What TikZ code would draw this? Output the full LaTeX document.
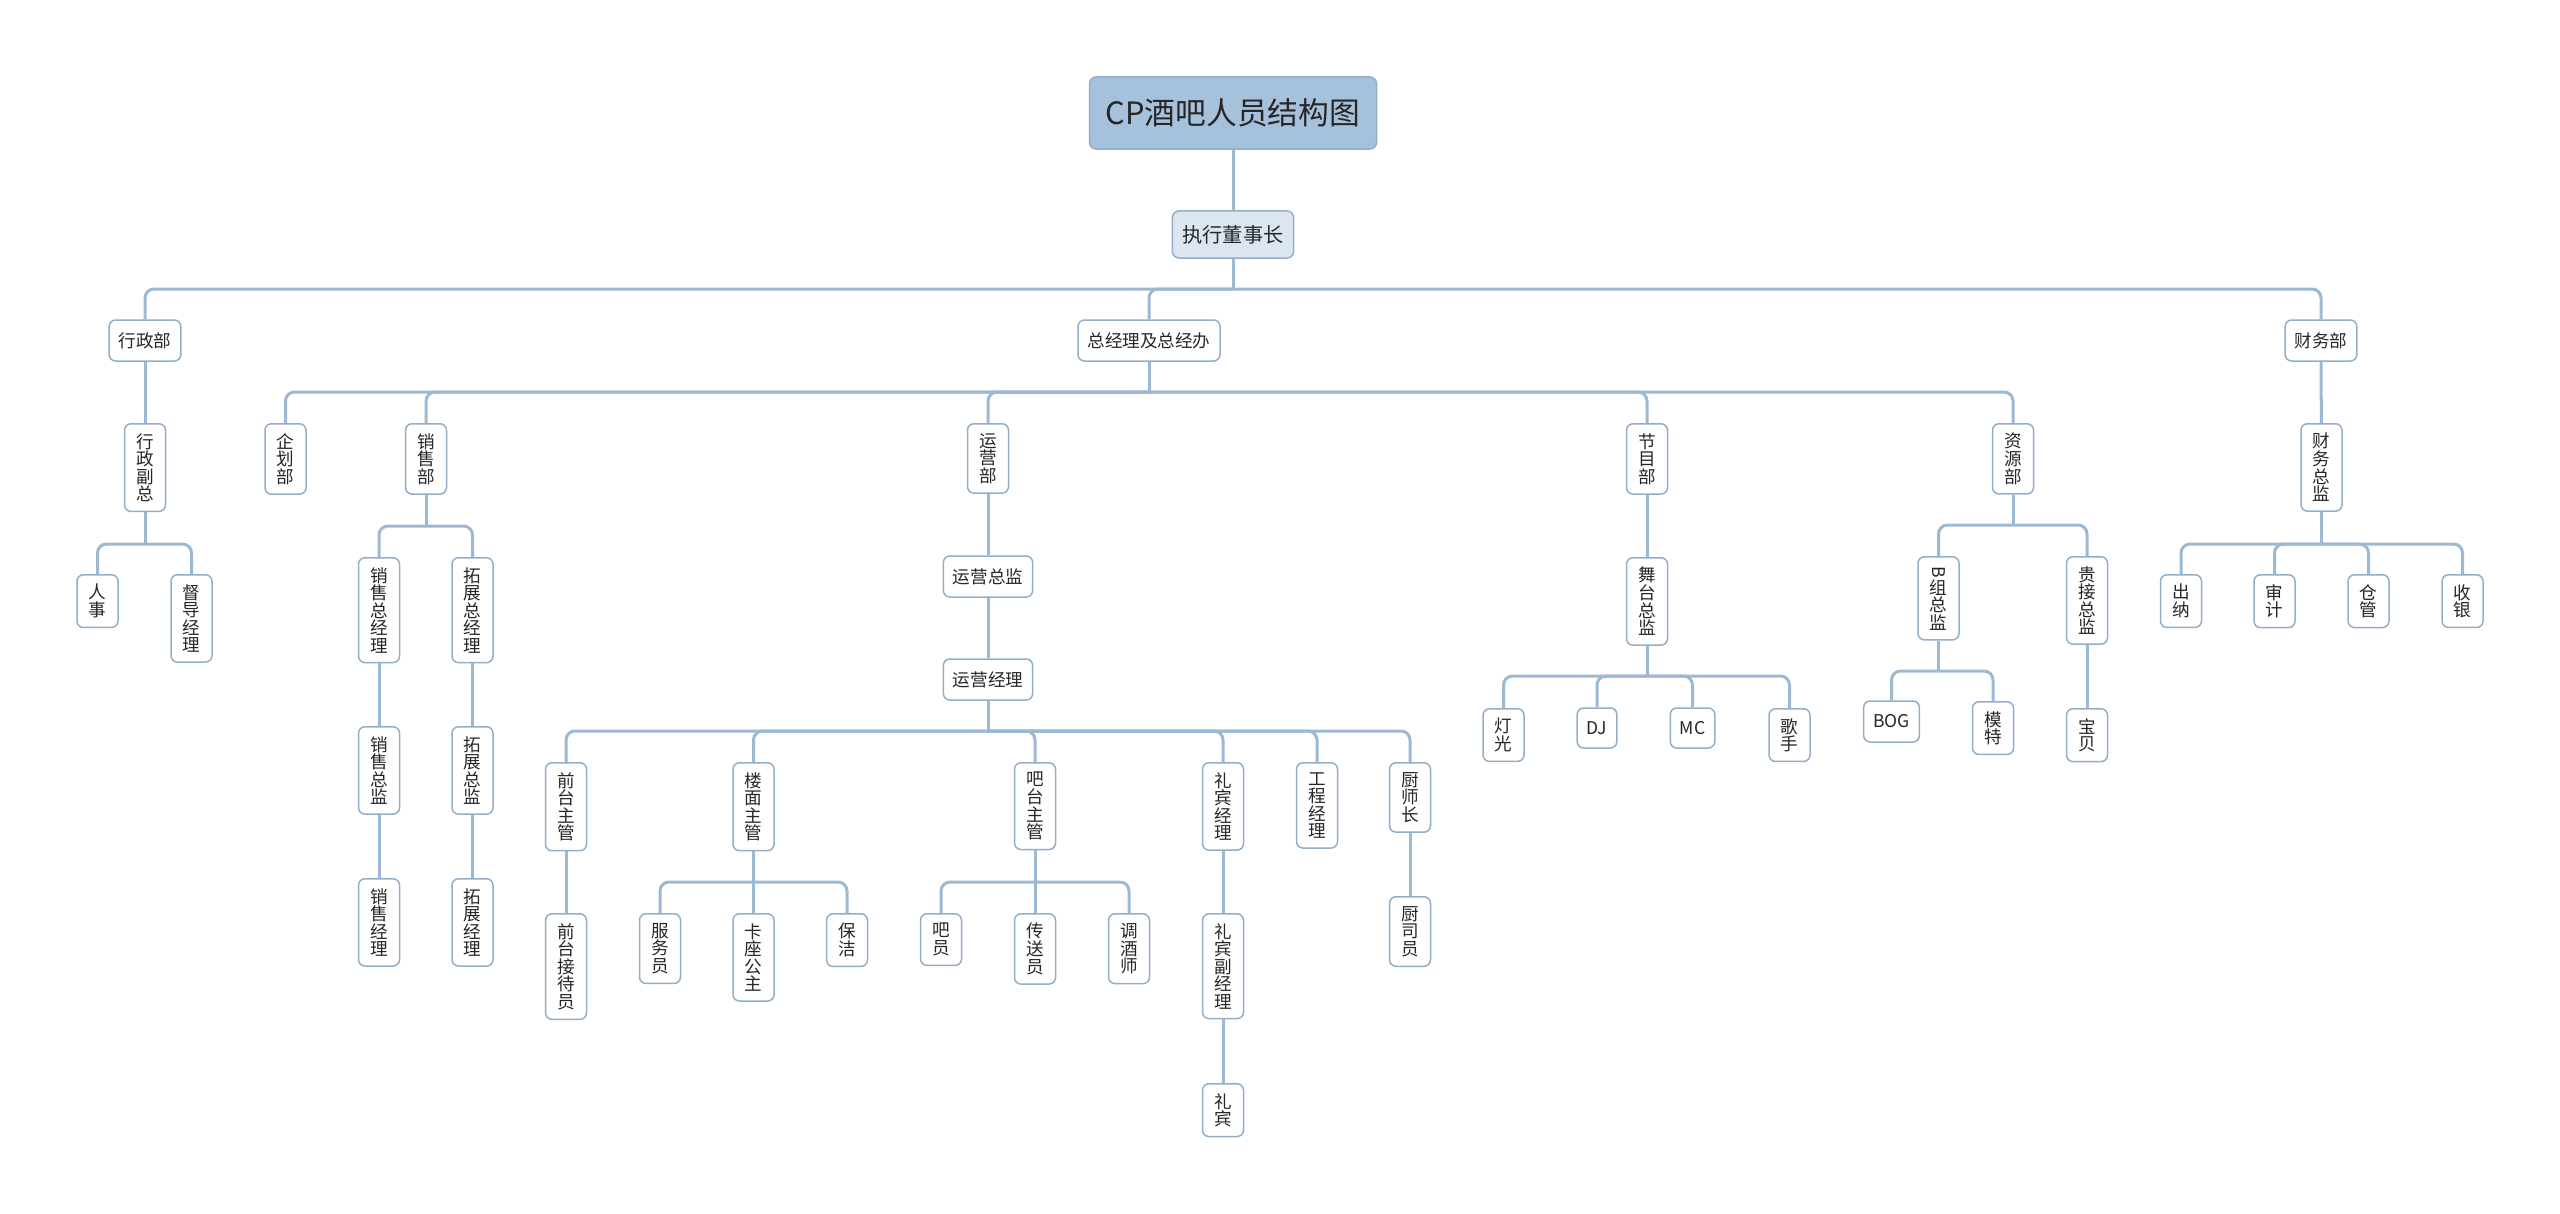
\documentclass[tikz,border=0pt]{standalone}
\usepackage{fontspec}
\setmainfont{Noto Sans CJK SC}
\usepackage{graphicx}

\definecolor{linea}{HTML}{9DB8D2}
\definecolor{bordo}{HTML}{93AEC9}
\definecolor{radice}{HTML}{A6C1DB}
\definecolor{capo}{HTML}{DCE6F1}

\begin{document}
\begin{tikzpicture}[x=0.2mm, y=-0.2mm,
    box/.style={draw=bordo, line width=0.3mm, rounded corners=1.3mm, fill=white, text=black!85,
        font=\fontsize{10pt}{10pt}\selectfont, inner xsep=1.9mm, inner ysep=0mm, minimum height=8.2mm},
    vbox/.style={box, anchor=north, align=center, inner xsep=0mm, inner ysep=1.9mm,
        minimum width=8.2mm, minimum height=0mm},
    link/.style={draw=linea, line width=0.6mm, rounded corners=1.8mm}]
    \useasboundingbox (0,0) rectangle (2560,1214);

    % Radice
    \node[box, fill=radice, font=\fontsize{17.5pt}{18pt}\selectfont, minimum width=57.4mm, minimum height=14.4mm] (root) at (1233,113) {CP酒吧人员结构图};
    \node[box, fill=capo, font=\fontsize{11.5pt}{12pt}\selectfont, inner xsep=2mm, minimum height=9.4mm] (exec) at (1233,234.5) {执行董事长};
    \draw[link] (root) -- (exec);

    % Primo livello
    \node[box] (xz) at (145,340.5) {行政部};
    \node[box] (zjl) at (1149,340.5) {总经理及总经办};
    \node[box] (cw) at (2321,340.5) {财务部};
    \coordinate (exec-b) at (1233,289);
    \draw[link] (exec) -- (exec-b);
    \foreach \n in {xz,zjl,cw} \draw[link] (exec-b) -| (\n);

    % Ramo del personale amministrativo
    \node[vbox] (xzfz) at (145,423) {行\\政\\副\\总};
    \draw[link] (xz) -- (xzfz);
    \node[vbox] (rs) at (97.5,574) {人\\事};
    \node[vbox] (dd) at (191.5,574) {督\\导\\经\\理};
    \coordinate (xzfz-b) at (145,544);
    \draw[link] (xzfz) -- (xzfz-b);
    \foreach \n in {rs,dd} \draw[link] (xzfz-b) -| (\n);

    % Reparti sotto la direzione generale
    \node[vbox] (qh) at (285.5,423) {企\\划\\部};
    \node[vbox] (xs) at (426,423) {销\\售\\部};
    \node[vbox] (yy) at (988,423) {运\\营\\部};
    \node[vbox] (jm) at (1647,423) {节\\目\\部};
    \node[vbox] (zy) at (2013,423) {资\\源\\部};
    \coordinate (zjl-b) at (1149,392);
    \draw[link] (zjl) -- (zjl-b);
    \foreach \n in {qh,xs,yy,jm,zy} \draw[link] (zjl-b) -| (\n);

    % Vendite
    \node[vbox] (xszjl) at (379,557) {销\\售\\总\\经\\理};
    \node[vbox] (tzzjl) at (472.5,557) {拓\\展\\总\\经\\理};
    \coordinate (xs-b) at (426,526);
    \draw[link] (xs) -- (xs-b);
    \foreach \n in {xszjl,tzzjl} \draw[link] (xs-b) -| (\n);
    \node[vbox] (xszj) at (379,726) {销\\售\\总\\监};
    \node[vbox] (tzzj) at (472.5,726) {拓\\展\\总\\监};
    \node[vbox] (xsjl) at (379,878) {销\\售\\经\\理};
    \node[vbox] (tzjl) at (472.5,878) {拓\\展\\经\\理};
    \draw[link] (xszjl) -- (xszj);
    \draw[link] (xszj) -- (xsjl);
    \draw[link] (tzzjl) -- (tzzj);
    \draw[link] (tzzj) -- (tzjl);

    % Operazioni
    \node[box] (yyzj) at (988,576.5) {运营总监};
    \node[box] (yyjl) at (988,679.5) {运营经理};
    \draw[link] (yy) -- (yyzj);
    \draw[link] (yyzj) -- (yyjl);
    \node[vbox] (qtzg) at (566,762) {前\\台\\主\\管};
    \node[vbox] (lmzg) at (753.5,762) {楼\\面\\主\\管};
    \node[vbox] (btzg) at (1035,762) {吧\\台\\主\\管};
    \node[vbox] (lbjl) at (1223,762) {礼\\宾\\经\\理};
    \node[vbox] (gcjl) at (1317,762) {工\\程\\经\\理};
    \node[vbox] (csz) at (1410,762) {厨\\师\\长};
    \coordinate (yyjl-b) at (988,731);
    \draw[link] (yyjl) -- (yyjl-b);
    \foreach \n in {qtzg,lmzg,btzg,lbjl,gcjl,csz} \draw[link] (yyjl-b) -| (\n);

    \node[vbox] (qtjd) at (566,913) {前\\台\\接\\待\\员};
    \draw[link] (qtzg) -- (qtjd);

    \node[vbox] (fwy) at (660,913) {服\\务\\员};
    \node[vbox] (kzgz) at (753.5,913) {卡\\座\\公\\主};
    \node[vbox] (bj) at (847,913) {保\\洁};
    \coordinate (lmzg-b) at (753.5,882);
    \draw[link] (lmzg) -- (lmzg-b);
    \foreach \n in {fwy,kzgz,bj} \draw[link] (lmzg-b) -| (\n);

    \node[vbox] (by) at (941,913) {吧\\员};
    \node[vbox] (csy) at (1035,913) {传\\送\\员};
    \node[vbox] (tjs) at (1129,913) {调\\酒\\师};
    \coordinate (btzg-b) at (1035,882);
    \draw[link] (btzg) -- (btzg-b);
    \foreach \n in {by,csy,tjs} \draw[link] (btzg-b) -| (\n);

    \node[vbox] (lbfjl) at (1223,913) {礼\\宾\\副\\经\\理};
    \node[vbox] (lb) at (1223,1083) {礼\\宾};
    \draw[link] (lbjl) -- (lbfjl);
    \draw[link] (lbfjl) -- (lb);

    \node[vbox] (csiy) at (1410,896) {厨\\司\\员};
    \draw[link] (csz) -- (csiy);

    % Programmi
    \node[vbox] (wtzj) at (1647,557) {舞\\台\\总\\监};
    \draw[link] (jm) -- (wtzj);
    \node[vbox] (dg) at (1503.5,708) {灯\\光};
    \node[box, minimum height=8mm] (dj) at (1597,728) {DJ};
    \node[box, minimum height=8mm] (mc) at (1692.5,728) {MC};
    \node[vbox] (gs) at (1789.5,708) {歌\\手};
    \coordinate (wtzj-b) at (1647,676);
    \draw[link] (wtzj) -- (wtzj-b);
    \foreach \n in {dg,dj,mc,gs} \draw[link] (wtzj-b) -| (\n);

    % Risorse
    \node[vbox] (bzzj) at (1938.5,556) {\rotatebox{-90}{B}\\组\\总\\监};
    \node[vbox] (gjzj) at (2087,556) {贵\\接\\总\\监};
    \coordinate (zy-b) at (2013,525);
    \draw[link] (zy) -- (zy-b);
    \foreach \n in {bzzj,gjzj} \draw[link] (zy-b) -| (\n);
    \node[box] (bog) at (1891.5,721.5) {BOG};
    \node[vbox] (mt) at (1993,701) {模\\特};
    \coordinate (bzzj-b) at (1938.5,671);
    \draw[link] (bzzj) -- (bzzj-b);
    \foreach \n in {bog,mt} \draw[link] (bzzj-b) -| (\n);
    \node[vbox] (bb) at (2087,708) {宝\\贝};
    \draw[link] (gjzj) -- (bb);

    % Finanza
    \node[vbox] (cwzj) at (2321.5,423) {财\\务\\总\\监};
    \draw[link] (cw) -- (cwzj);
    \node[vbox] (cn) at (2181,574) {出\\纳};
    \node[vbox] (sj) at (2274.5,574) {审\\计};
    \node[vbox] (cg) at (2368.5,574) {仓\\管};
    \node[vbox] (sy) at (2462.5,574) {收\\银};
    \coordinate (cwzj-b) at (2321.5,544);
    \draw[link] (cwzj) -- (cwzj-b);
    \foreach \n in {cn,sj,cg,sy} \draw[link] (cwzj-b) -| (\n);

\end{tikzpicture}
\end{document}
